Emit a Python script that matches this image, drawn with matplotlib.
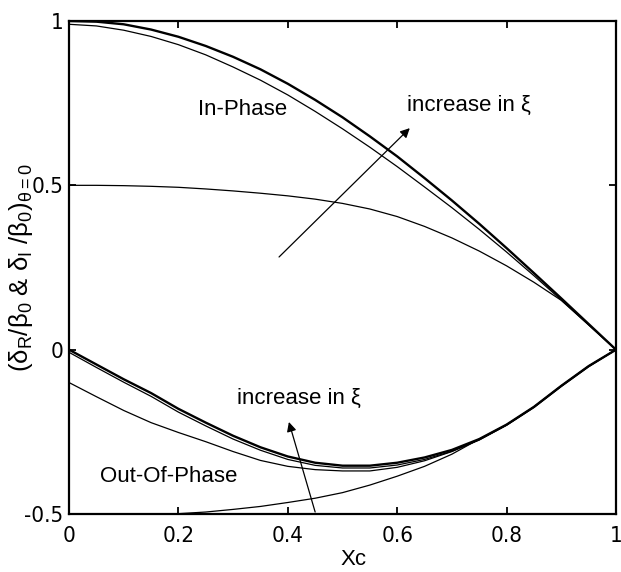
import matplotlib
matplotlib.use("Agg")
import matplotlib.pyplot as plt
from matplotlib import font_manager
from matplotlib.font_manager import FontProperties

# ---- data ----
xc = [0.0, 0.05, 0.1, 0.15, 0.2, 0.25, 0.3, 0.35, 0.4, 0.45, 0.5,
      0.55, 0.6, 0.65, 0.7, 0.75, 0.8, 0.85, 0.9, 0.95, 1.0]

in_phase_1 = [1.0, 0.998, 0.99, 0.974, 0.952, 0.924, 0.891, 0.853, 0.809, 0.760, 0.707,
              0.649, 0.588, 0.522, 0.454, 0.383, 0.309, 0.233, 0.156, 0.078, 0.0]
in_phase_2 = [0.99, 0.985, 0.972, 0.953, 0.928, 0.897, 0.860, 0.820, 0.775, 0.725, 0.672,
              0.616, 0.557, 0.495, 0.432, 0.366, 0.297, 0.225, 0.151, 0.076, 0.0]
in_phase_3 = [0.5, 0.5, 0.499, 0.497, 0.494, 0.489, 0.483, 0.476, 0.468, 0.458, 0.445,
              0.428, 0.405, 0.375, 0.340, 0.300, 0.255, 0.205, 0.150, 0.075, 0.0]

out_phase_1 = [0.0, -0.045, -0.090, -0.132, -0.180, -0.222, -0.262, -0.297, -0.325, -0.344, -0.353,
               -0.353, -0.344, -0.328, -0.305, -0.272, -0.228, -0.174, -0.110, -0.050, 0.0]
out_phase_2 = [-0.008, -0.054, -0.099, -0.142, -0.190, -0.232, -0.272, -0.306, -0.334, -0.352, -0.360,
               -0.360, -0.351, -0.334, -0.309, -0.274, -0.229, -0.174, -0.110, -0.050, 0.0]
out_phase_3 = [-0.100, -0.143, -0.185, -0.222, -0.252, -0.280, -0.310, -0.337, -0.355, -0.365, -0.369,
               -0.369, -0.358, -0.338, -0.310, -0.275, -0.230, -0.176, -0.112, -0.052, 0.0]
out_phase_4 = [-0.5, -0.5, -0.5, -0.5, -0.499, -0.494, -0.486, -0.477, -0.465, -0.452, -0.435,
               -0.412, -0.385, -0.355, -0.318, -0.272, -0.228, -0.174, -0.110, -0.050, 0.0]

x_ticks = [0, 0.2, 0.4, 0.6, 0.8, 1]
x_tick_labels = ["0", "0.2", "0.4", "0.6", "0.8", "1"]
y_ticks = [-0.5, 0, 0.5, 1]
y_tick_labels = ["-0.5", "0", "0.5", "1"]

# ---- fonts ----
plt.rcParams['font.family'] = ['Liberation Sans', 'DejaVu Sans']
plt.rcParams['mathtext.fontset'] = 'custom'
plt.rcParams['mathtext.rm'] = 'Liberation Sans'
plt.rcParams['mathtext.it'] = 'Liberation Sans'
plt.rcParams['mathtext.bf'] = 'Liberation Sans:bold'

cond_path = None
for f in font_manager.fontManager.ttflist:
    if f.name in ("Liberation Sans Narrow",) and f.style == 'normal' and f.weight in (400, 'normal', 'regular'):
        cond_path = f.fname
        break
if cond_path is None:
    for f in font_manager.fontManager.ttflist:
        if f.name == "DejaVu Sans" and 'Condensed' in f.fname and 'Bold' not in f.fname \
                and 'Oblique' not in f.fname:
            cond_path = f.fname
            break
if cond_path is not None:
    tick_fp = FontProperties(fname=cond_path, size=16)
else:
    tick_fp = FontProperties(family='Liberation Sans', size=16)

fig = plt.figure(figsize=(6.21, 5.72), dpi=100)
ax = fig.add_axes([69 / 621, 58 / 572, 547 / 621, 493 / 572])

thin = 0.9
thick = 1.7
ax.plot(xc, in_phase_1, color='black', lw=thick)
ax.plot(xc, in_phase_2, color='black', lw=thin)
ax.plot(xc, in_phase_3, color='black', lw=thin)
ax.plot(xc, out_phase_1, color='black', lw=thick)
ax.plot(xc, out_phase_2, color='black', lw=thin)
ax.plot(xc, out_phase_3, color='black', lw=thin)
ax.plot(xc, out_phase_4, color='black', lw=thin)

ax.set_xlim(0, 1)
ax.set_ylim(-0.5, 1)
ax.set_xticks(x_ticks)
ax.set_xticklabels(x_tick_labels)
ax.set_yticks(y_ticks)
ax.set_yticklabels(y_tick_labels)
ax.tick_params(direction='in', length=5, width=1.3, top=True, right=True)
ax.tick_params(axis='x', pad=9)
ax.tick_params(axis='y', pad=4)
for lab in ax.get_xticklabels() + ax.get_yticklabels():
    lab.set_fontproperties(tick_fp)
for s in ax.spines.values():
    s.set_linewidth(1.6)

ax.set_xlabel("Xc", fontsize=16)
ax.xaxis.set_label_coords(0.52, -0.072)
ax.set_ylabel("(δ$_R$/β$_0$ & δ$_I$ /β$_0$)$_{θ=0}$", fontsize=18.5)
ax.yaxis.set_label_coords(-0.063, 0.5)

# annotations
ax.text(0.236, 0.73, "In-Phase", fontsize=16, va='center', ha='left')
ax.text(0.057, -0.387, "Out-Of-Phase", fontsize=16, va='center', ha='left')
ax.text(0.618, 0.744, "increase in ξ", fontsize=16, va='center', ha='left')
ax.text(0.307, -0.147, "increase in ξ", fontsize=16, va='center', ha='left')

arrow_kw = dict(arrowstyle='-|>', color='black', lw=0.9, mutation_scale=14,
                shrinkA=0, shrinkB=0)
ax.annotate("", xy=(0.623, 0.674), xytext=(0.384, 0.282), arrowprops=arrow_kw)
ax.annotate("", xy=(0.402, -0.22), xytext=(0.45, -0.494), arrowprops=arrow_kw)

fig.savefig("out.png", dpi=100)
